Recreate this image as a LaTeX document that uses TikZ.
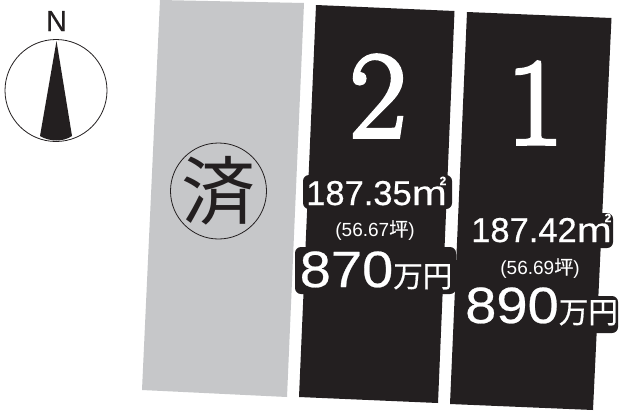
\documentclass[tikz,border=0pt]{standalone}
\usepackage{fontspec}
\setmainfont{Liberation Sans}
\newfontfamily\jpf[FakeBold=0.6]{Noto Sans CJK JP}
\newfontfamily\jpl{Noto Sans CJK JP}
\newfontfamily\pricef[FakeStretch=1.1,FakeBold=0.5]{Liberation Sans}
\newfontfamily\areaf[FakeBold=0.5]{Liberation Sans}
\newfontfamily\numf[FakeBold=3]{Latin Modern Roman}
\definecolor{lot}{HTML}{231F20}
\definecolor{sold}{HTML}{C6C7C9}
\tikzset{
  px/.style={x=1pt,y=-1pt},
  lotshape/.style={fill=lot,draw=none},
  soldshape/.style={fill=sold,draw=none},
  halo/.style={fill=lot,rounded corners=6pt,inner sep=0pt},
  area/.style={text=white,inner sep=0pt,anchor=base west,font=\areaf\fontsize{34.5}{34}\selectfont},
  tsubo/.style={text=white,inner sep=0pt,anchor=base,font=\fontsize{19}{20}\selectfont},
  price/.style={text=white,inner sep=0pt,anchor=base west,font=\pricef\fontsize{51}{51}\selectfont},
  lotno/.style={text=white,inner sep=0pt,anchor=base,font=\numf\fontsize{124}{124}\selectfont},
}
\newcommand{\sqm}{\scalebox{1.22}[1]{m}\llap{\raisebox{20pt}{\fontsize{12}{12}\selectfont\bfseries 2\kern0.5pt}}}
\newcommand{\manen}{{\jpf\fontsize{29.5}{30}\selectfont 万円}}
\begin{document}
\begin{tikzpicture}[px]
\useasboundingbox (0,0) rectangle (620,410);
\fill[white] (0,0) rectangle (620,410);
% lots
\path[soldshape] (160,0) -- (304,3) -- (287,397) -- (142,390) -- cycle;
\path[lotshape] (316,5) -- (454.5,11) -- (438,403) -- (299,397) -- cycle;
\path[lotshape] (467,12) -- (611.5,18) -- (593,410) -- (450,404) -- cycle;
% compass
\node[inner sep=0pt,font=\areaf\fontsize{29}{29}\selectfont,anchor=base,text=lot] (north) at (56.5,31) {N};
\coordinate (cc) at (56,90.5);
\draw[lot,line width=0.8pt] (cc) circle (51);
\path[fill=lot] (56.5,41) -- (72,136) .. controls (63,142) and (50,142) .. (40,136) -- cycle;
% sold stamp
\draw[lot,line width=0.8pt] (218.5,191) circle (48);
\node[inner sep=0pt,text=lot,font=\jpl\fontsize{74}{74}\selectfont] (stamp) at (218.5,191) {済};
% lot numbers
\node[lotno] (n2) at (378,137) {2};
\node[lotno] (n1) at (535,144) {1};
% lot 2 text
\path[halo] (303,175) rectangle (452,209);
\path[halo] (295,247) rectangle (456,294);
\node[area] (a2) at (306,205) {187.35\sqm};
\node[tsubo] (t2) at (375,236) {(56.67{\jpf 坪})};
\node[price] (p2) at (299.5,287) {870\manen};
% lot 1 text
\path[halo] (470,213) rectangle (613,248);
\path[halo] (460,296) rectangle (618,333);
\node[area] (a1) at (471,242) {187.42\sqm};
\node[tsubo] (t1) at (540,274) {(56.69{\jpf 坪})};
\node[price] (p1) at (465,323) {890\manen};
\end{tikzpicture}
\end{document}
